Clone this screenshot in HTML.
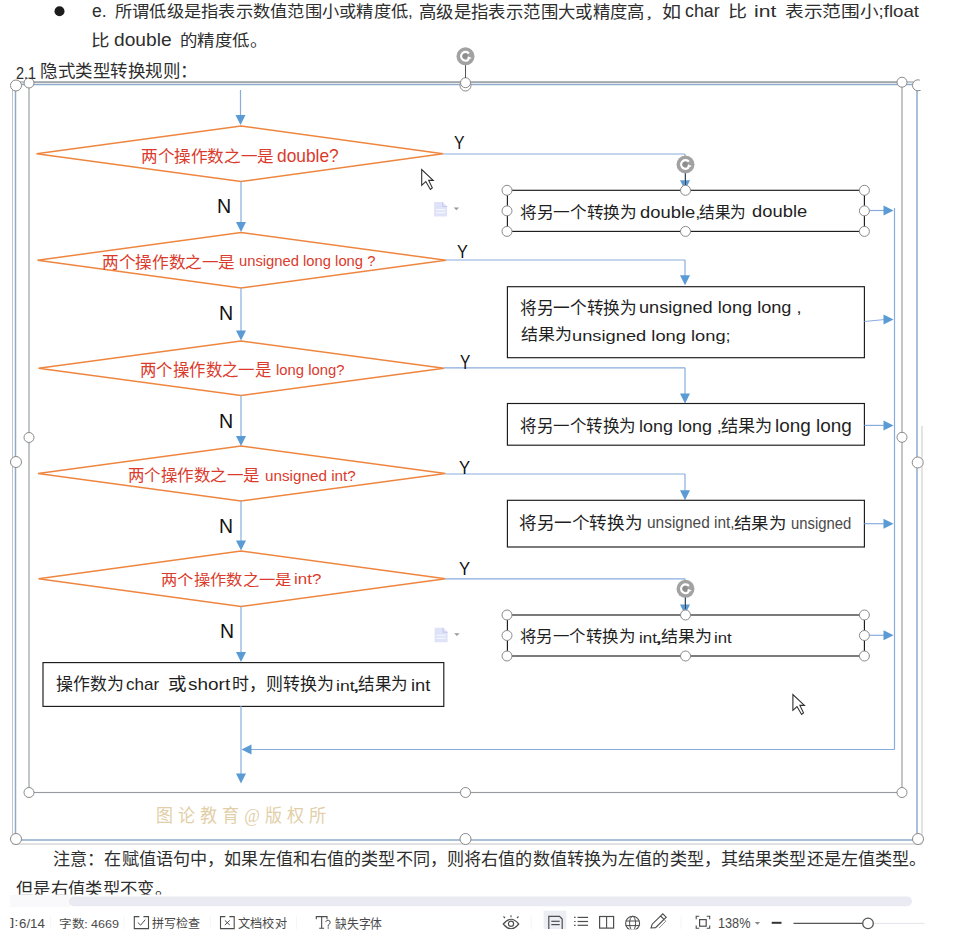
<!DOCTYPE html>
<html lang="zh-CN"><head><meta charset="utf-8"><style>
html,body{margin:0;padding:0;background:#fff}
body{width:967px;height:945px;position:relative;overflow:hidden;font-family:"Liberation Sans",sans-serif}
.t{position:absolute;white-space:nowrap;transform-origin:0 0;line-height:1}
svg{position:absolute;left:0;top:0}
</style></head><body>
<svg width="967" height="945" viewBox="0 0 967 945">
<line x1="12.5" y1="88" x2="12.5" y2="844" stroke="#c4c4c4" stroke-width="1"/>
<line x1="12" y1="844" x2="922" y2="844" stroke="#c4c4c4" stroke-width="1"/>
<line x1="922" y1="426" x2="922" y2="844" stroke="#d6d6d6" stroke-width="1.3"/>
<line x1="16" y1="82" x2="918" y2="82" stroke="#8c9196" stroke-width="1.1"/>
<circle cx="59.5" cy="11.2" r="5" fill="#1c1c1c"/>
<rect x="15.5" y="84.5" width="901.5" height="755.5" fill="none" stroke="#8eaacb" stroke-width="1.5"/>
<rect x="29" y="82.2" width="873" height="710.3" fill="none" stroke="#979b9f" stroke-width="1.15"/>
<line x1="240.5" y1="90" x2="240.5" y2="118" stroke="#88addc" stroke-width="1.2"/>
<path d="M235.5,115 L245.5,115 L240.5,125 Z" fill="#5b9bd5"/>
<path d="M241,126 L443,153.75 L241,181.5 L36.5,153.75 Z" fill="none" stroke="#ee8640" stroke-width="1.5"/>
<path d="M241,232.5 L446,260.25 L241,288 L37.5,260.25 Z" fill="none" stroke="#ee8640" stroke-width="1.5"/>
<path d="M241,341 L444,368.25 L241,395.5 L38.5,368.25 Z" fill="none" stroke="#ee8640" stroke-width="1.5"/>
<path d="M241,446 L445.5,473.5 L241,501 L38,473.5 Z" fill="none" stroke="#ee8640" stroke-width="1.5"/>
<path d="M241,551 L445.5,578.75 L241,606.5 L38.5,578.75 Z" fill="none" stroke="#ee8640" stroke-width="1.5"/>
<line x1="241" y1="181.5" x2="241" y2="223" stroke="#88addc" stroke-width="1.2"/>
<path d="M236,222 L246,222 L241,232 Z" fill="#5b9bd5"/>
<line x1="241" y1="288" x2="241" y2="331.5" stroke="#88addc" stroke-width="1.2"/>
<path d="M236,330.5 L246,330.5 L241,340.5 Z" fill="#5b9bd5"/>
<line x1="241" y1="395.5" x2="241" y2="437" stroke="#88addc" stroke-width="1.2"/>
<path d="M236,436 L246,436 L241,446 Z" fill="#5b9bd5"/>
<line x1="241" y1="501" x2="241" y2="541.5" stroke="#88addc" stroke-width="1.2"/>
<path d="M236,540.5 L246,540.5 L241,550.5 Z" fill="#5b9bd5"/>
<line x1="241" y1="606.5" x2="241" y2="653" stroke="#88addc" stroke-width="1.2"/>
<path d="M236,652 L246,652 L241,662 Z" fill="#5b9bd5"/>
<rect x="43" y="662.6" width="400.8" height="43.8" fill="#fff" stroke="#1a1a1a" stroke-width="1.15"/>
<line x1="241" y1="706" x2="241" y2="775" stroke="#88addc" stroke-width="1.2"/>
<path d="M236,773.5 L246,773.5 L241,783.5 Z" fill="#5b9bd5"/>
<line x1="894.5" y1="749.5" x2="250" y2="749.5" stroke="#88addc" stroke-width="1.2"/>
<path d="M251.5,744.5 L251.5,754.5 L241.5,749.5 Z" fill="#5b9bd5"/>
<line x1="894.5" y1="208" x2="894.5" y2="749.5" stroke="#88addc" stroke-width="1.2"/>
<line x1="443" y1="154" x2="685" y2="154" stroke="#88addc" stroke-width="1.2"/>
<line x1="685" y1="154" x2="685" y2="181.3" stroke="#88addc" stroke-width="1.2"/>
<path d="M680,180.3 L690,180.3 L685,190.3 Z" fill="#5b9bd5"/>
<line x1="446" y1="260" x2="685" y2="260" stroke="#88addc" stroke-width="1.2"/>
<line x1="685" y1="260" x2="685" y2="276.3" stroke="#88addc" stroke-width="1.2"/>
<path d="M680,275.3 L690,275.3 L685,285.3 Z" fill="#5b9bd5"/>
<line x1="444" y1="367.8" x2="685" y2="367.8" stroke="#88addc" stroke-width="1.2"/>
<line x1="685" y1="367.8" x2="685" y2="394.5" stroke="#88addc" stroke-width="1.2"/>
<path d="M680,393.5 L690,393.5 L685,403.5 Z" fill="#5b9bd5"/>
<line x1="445.5" y1="474" x2="685" y2="474" stroke="#88addc" stroke-width="1.2"/>
<line x1="685" y1="474" x2="685" y2="491.3" stroke="#88addc" stroke-width="1.2"/>
<path d="M680,490.3 L690,490.3 L685,500.3 Z" fill="#5b9bd5"/>
<line x1="445.5" y1="578.8" x2="685" y2="578.8" stroke="#88addc" stroke-width="1.2"/>
<line x1="685" y1="578.8" x2="685" y2="605.6" stroke="#88addc" stroke-width="1.2"/>
<path d="M680,604.6 L690,604.6 L685,614.6 Z" fill="#5b9bd5"/>
<rect x="507.4" y="190.3" width="357" height="41.10" fill="none" stroke="#1a1a1a" stroke-width="1.15"/>
<rect x="507.4" y="286.7" width="357" height="71.00" fill="none" stroke="#1a1a1a" stroke-width="1.15"/>
<rect x="507.4" y="403.5" width="357" height="41.70" fill="none" stroke="#1a1a1a" stroke-width="1.15"/>
<rect x="507.4" y="500.3" width="357" height="46.70" fill="none" stroke="#1a1a1a" stroke-width="1.15"/>
<rect x="507.4" y="615" width="357" height="41.00" fill="none" stroke="#1a1a1a" stroke-width="1.15"/>
<line x1="864.4" y1="210.5" x2="885" y2="210.5" stroke="#88addc" stroke-width="1.2"/>
<path d="M883.5,205.5 L883.5,215.5 L893.5,210.5 Z" fill="#5b9bd5"/>
<line x1="864.4" y1="321.5" x2="885" y2="319.5" stroke="#88addc" stroke-width="1.2"/>
<path d="M883.5,314.5 L883.5,324.5 L893.5,319.5 Z" fill="#5b9bd5"/>
<line x1="864.4" y1="425.4" x2="885" y2="425.4" stroke="#88addc" stroke-width="1.2"/>
<path d="M883.5,420.4 L883.5,430.4 L893.5,425.4 Z" fill="#5b9bd5"/>
<line x1="864.4" y1="523.7" x2="885" y2="523.7" stroke="#88addc" stroke-width="1.2"/>
<path d="M883.5,518.7 L883.5,528.7 L893.5,523.7 Z" fill="#5b9bd5"/>
<line x1="864.4" y1="635.3" x2="885" y2="635.3" stroke="#88addc" stroke-width="1.2"/>
<path d="M883.5,630.3 L883.5,640.3 L893.5,635.3 Z" fill="#5b9bd5"/>
<circle cx="507" cy="190.3" r="5" fill="#fff" stroke="#8a8a8a" stroke-width="1"/>
<circle cx="685.5" cy="190.3" r="5" fill="#fff" stroke="#8a8a8a" stroke-width="1"/>
<circle cx="864.4" cy="190.3" r="5" fill="#fff" stroke="#8a8a8a" stroke-width="1"/>
<circle cx="507" cy="210.85000000000002" r="5" fill="#fff" stroke="#8a8a8a" stroke-width="1"/>
<circle cx="864.4" cy="210.85000000000002" r="5" fill="#fff" stroke="#8a8a8a" stroke-width="1"/>
<circle cx="507" cy="231.4" r="5" fill="#fff" stroke="#8a8a8a" stroke-width="1"/>
<circle cx="685.5" cy="231.4" r="5" fill="#fff" stroke="#8a8a8a" stroke-width="1"/>
<circle cx="864.4" cy="231.4" r="5" fill="#fff" stroke="#8a8a8a" stroke-width="1"/>
<circle cx="507" cy="615" r="5" fill="#fff" stroke="#8a8a8a" stroke-width="1"/>
<circle cx="685.5" cy="615" r="5" fill="#fff" stroke="#8a8a8a" stroke-width="1"/>
<circle cx="864.4" cy="615" r="5" fill="#fff" stroke="#8a8a8a" stroke-width="1"/>
<circle cx="507" cy="635.5" r="5" fill="#fff" stroke="#8a8a8a" stroke-width="1"/>
<circle cx="864.4" cy="635.5" r="5" fill="#fff" stroke="#8a8a8a" stroke-width="1"/>
<circle cx="507" cy="656" r="5" fill="#fff" stroke="#8a8a8a" stroke-width="1"/>
<circle cx="685.5" cy="656" r="5" fill="#fff" stroke="#8a8a8a" stroke-width="1"/>
<circle cx="864.4" cy="656" r="5" fill="#fff" stroke="#8a8a8a" stroke-width="1"/>
<circle cx="16" cy="85.5" r="5.5" fill="#fff" stroke="#8a8a8a" stroke-width="1"/>
<circle cx="465.5" cy="85.5" r="5.5" fill="#fff" stroke="#8a8a8a" stroke-width="1"/>
<circle cx="918" cy="85.3" r="5.5" fill="#fff" stroke="#8a8a8a" stroke-width="1"/>
<circle cx="16" cy="462" r="5.5" fill="#fff" stroke="#8a8a8a" stroke-width="1"/>
<circle cx="917.7" cy="462.5" r="5.5" fill="#fff" stroke="#8a8a8a" stroke-width="1"/>
<circle cx="16" cy="839" r="5.5" fill="#fff" stroke="#8a8a8a" stroke-width="1"/>
<circle cx="465.5" cy="839" r="5.5" fill="#fff" stroke="#8a8a8a" stroke-width="1"/>
<circle cx="918" cy="839" r="5.5" fill="#fff" stroke="#8a8a8a" stroke-width="1"/>
<rect x="919.8" y="76" width="30" height="14" fill="#fff"/>
<circle cx="29" cy="83" r="5" fill="#fff" stroke="#8a8a8a" stroke-width="1"/>
<circle cx="465.5" cy="82.7" r="5" fill="#fff" stroke="#8a8a8a" stroke-width="1"/>
<circle cx="902" cy="82.2" r="5" fill="#fff" stroke="#8a8a8a" stroke-width="1"/>
<circle cx="29" cy="437.5" r="5" fill="#fff" stroke="#8a8a8a" stroke-width="1"/>
<circle cx="902" cy="437.3" r="5" fill="#fff" stroke="#8a8a8a" stroke-width="1"/>
<circle cx="29" cy="792.5" r="5" fill="#fff" stroke="#8a8a8a" stroke-width="1"/>
<circle cx="465.5" cy="792.5" r="5" fill="#fff" stroke="#8a8a8a" stroke-width="1"/>
<circle cx="902" cy="792.5" r="5" fill="#fff" stroke="#8a8a8a" stroke-width="1"/>
<line x1="465.5" y1="65" x2="465.5" y2="78" stroke="#555" stroke-width="1"/>
<circle cx="465.5" cy="56.3" r="9" fill="#a2a2a2"/><path d="M468.87,53.47 A4.4,4.4 0 1 0 468.61,59.41" fill="none" stroke="#fff" stroke-width="2.1"/><path d="M467.10,55.90 L471.70,57.90 L467.70,60.30 Z" fill="#fff"/><circle cx="465.2" cy="56.099999999999994" r="2.6" fill="#8e8e8e"/>
<line x1="685.5" y1="173" x2="685.5" y2="185" stroke="#444" stroke-width="1"/>
<circle cx="685.5" cy="164.5" r="9" fill="#a2a2a2"/><path d="M688.87,161.67 A4.4,4.4 0 1 0 688.61,167.61" fill="none" stroke="#fff" stroke-width="2.1"/><path d="M687.10,164.10 L691.70,166.10 L687.70,168.50 Z" fill="#fff"/><circle cx="685.2" cy="164.3" r="2.6" fill="#8e8e8e"/>
<circle cx="685.5" cy="588.8" r="9" fill="#a2a2a2"/><path d="M688.87,585.97 A4.4,4.4 0 1 0 688.61,591.91" fill="none" stroke="#fff" stroke-width="2.1"/><path d="M687.10,588.40 L691.70,590.40 L687.70,592.80 Z" fill="#fff"/><circle cx="685.2" cy="588.5999999999999" r="2.6" fill="#8e8e8e"/>
<line x1="685.5" y1="597.5" x2="685.5" y2="609" stroke="#444" stroke-width="1"/>
<path d="M421.7,169.6 L421.7,185.3 L425.8,181.5 L430.4,189.5 L432.3,187.8 L428.7,180.4 L433.2,180.4 Z" fill="#fff" stroke="#2e2e2e" stroke-width="1.1" stroke-linejoin="miter"/>
<path d="M792.9,694.6 L792.9,710.3 L797.0,706.5 L801.6,714.5 L803.5,712.8 L799.9,705.4 L804.4,705.4 Z" fill="#fff" stroke="#2e2e2e" stroke-width="1.1" stroke-linejoin="miter"/>
<path d="M434.1,202 L442.6,202 L447.1,206.5 L447.1,216.5 L434.1,216.5 Z" fill="#dfe3f7"/><path d="M442.6,202 L442.6,206.5 L447.1,206.5" fill="none" stroke="#c3c9ee" stroke-width="1"/><rect x="436.1" y="209" width="9" height="1.3" fill="#f3f5ff"/><rect x="436.1" y="212" width="9" height="1.3" fill="#f3f5ff"/><path d="M453.6,207.6 L459.1,207.6 L456.35,210.2 Z" fill="#9a9a9a"/>
<path d="M434.6,627.7 L443.1,627.7 L447.6,632.2 L447.6,642.2 L434.6,642.2 Z" fill="#dfe3f7"/><path d="M443.1,627.7 L443.1,632.2 L447.6,632.2" fill="none" stroke="#c3c9ee" stroke-width="1"/><rect x="436.6" y="634.7" width="9" height="1.3" fill="#f3f5ff"/><rect x="436.6" y="637.7" width="9" height="1.3" fill="#f3f5ff"/><path d="M454.1,633.3000000000001 L459.6,633.3000000000001 L456.85,635.9000000000001 Z" fill="#9a9a9a"/>
<line x1="50.7" y1="916" x2="50.7" y2="929" stroke="#f6f6f6" stroke-width="1"/>
<line x1="124" y1="916" x2="124" y2="929" stroke="#f6f6f6" stroke-width="1"/>
<line x1="210.3" y1="916" x2="210.3" y2="929" stroke="#f6f6f6" stroke-width="1"/>
<line x1="296.6" y1="916" x2="296.6" y2="929" stroke="#f6f6f6" stroke-width="1"/>
<line x1="531.3" y1="916" x2="531.3" y2="929" stroke="#f6f6f6" stroke-width="1"/>
<line x1="681" y1="916" x2="681" y2="929" stroke="#f6f6f6" stroke-width="1"/>
<path d="M139.4,916.6 L134.3,916.6 L134.3,928.6 L148.5,928.6 L148.5,916.6 L143.4,916.6" fill="none" stroke="#4d4d4d" stroke-width="1.1"/>
<path d="M137.8,922.5 L140.6,925.2 L145.3,919.6" fill="none" stroke="#4d4d4d" stroke-width="1"/>
<path d="M225.35,916.6 L220.5,916.6 L220.5,928.6 L234.2,928.6 L234.2,916.6 L229.35,916.6" fill="none" stroke="#4d4d4d" stroke-width="1.1"/>
<path d="M224.8,920.4 L229.8,925 M229.8,920.4 L224.8,925" fill="none" stroke="#4d4d4d" stroke-width="1"/>
<path d="M503.3,924 Q511,914.5 518.7,924 Q511,933.5 503.3,924 Z" fill="none" stroke="#4d4d4d" stroke-width="1.2"/>
<circle cx="511" cy="923.8" r="2.6" fill="none" stroke="#4d4d4d" stroke-width="1.2"/>
<line x1="511" y1="915.2" x2="511" y2="917.3" stroke="#4d4d4d" stroke-width="1.1"/>
<line x1="503.5" y1="916.5" x2="505" y2="918" stroke="#4d4d4d" stroke-width="1.1"/>
<line x1="518.5" y1="916.5" x2="517" y2="918" stroke="#4d4d4d" stroke-width="1.1"/>
<rect x="543.6" y="910.7" width="22.8" height="18.3" fill="#eceef4"/>
<path d="M548.8,929 L548.8,916.3 L559.5,916.3 L562.2,919 L562.2,929" fill="none" stroke="#4d4d4d" stroke-width="1.2"/>
<line x1="551.3" y1="921.3" x2="559.7" y2="921.3" stroke="#4d4d4d" stroke-width="1.2"/>
<line x1="551.3" y1="924.6" x2="559.7" y2="924.6" stroke="#4d4d4d" stroke-width="1.2"/>
<line x1="574.1" y1="917.4" x2="575.6" y2="917.4" stroke="#4d4d4d" stroke-width="1.2"/>
<line x1="577.6" y1="917.4" x2="588.1" y2="917.4" stroke="#4d4d4d" stroke-width="1.2"/>
<line x1="574.1" y1="921.5" x2="575.6" y2="921.5" stroke="#4d4d4d" stroke-width="1.2"/>
<line x1="577.6" y1="921.5" x2="588.1" y2="921.5" stroke="#4d4d4d" stroke-width="1.2"/>
<line x1="574.1" y1="925.3" x2="575.6" y2="925.3" stroke="#4d4d4d" stroke-width="1.2"/>
<line x1="577.6" y1="925.3" x2="588.1" y2="925.3" stroke="#4d4d4d" stroke-width="1.2"/>
<rect x="599.6" y="916.5" width="14" height="11.6" fill="none" stroke="#4d4d4d" stroke-width="1.2"/>
<line x1="606.6" y1="916.5" x2="606.6" y2="928.1" stroke="#4d4d4d" stroke-width="1.1"/>
<circle cx="632.6" cy="923.3" r="7" fill="none" stroke="#4d4d4d" stroke-width="1.1"/>
<ellipse cx="632.6" cy="923.3" rx="3" ry="7" fill="none" stroke="#4d4d4d" stroke-width="1"/>
<line x1="625.6" y1="921" x2="639.6" y2="921" stroke="#4d4d4d" stroke-width="1"/>
<line x1="625.6" y1="925.6" x2="639.6" y2="925.6" stroke="#4d4d4d" stroke-width="1"/>
<path d="M651,928 L652.2,924.2 L662.8,913.8 L666.2,917.2 L655.6,927.6 Z M660.6,916 L664,919.4" fill="none" stroke="#4d4d4d" stroke-width="1.1"/>
<path d="M664.5,919.8 L665.8,921.2 L659,928" fill="none" stroke="#8a8a8a" stroke-width="0.9"/>
<path d="M316.3,919.2 L316.3,916.6 L327,916.6 L327,919.2 M321.65,916.6 L321.65,928.3 M319.2,928.3 L324.1,928.3" fill="none" stroke="#4d4d4d" stroke-width="1.1"/>
<path d="M325.5,922 Q326.5,920 328.2,920.2 Q330.6,920.6 330.2,922.8 Q329.7,924.3 328.2,925 L328.2,926.6" fill="none" stroke="#4d4d4d" stroke-width="1"/>
<circle cx="328.2" cy="928" r="0.7" fill="#4d4d4d"/>
<path d="M696.2,919.2 L696.2,916.3 L699.2,916.3 M706.7,916.3 L709.7,916.3 L709.7,919.2 M709.7,925.4 L709.7,928.3 L706.7,928.3 M699.2,928.3 L696.2,928.3 L696.2,925.4" fill="none" stroke="#4d4d4d" stroke-width="1.1"/>
<rect x="699.6" y="919.6" width="6.6" height="6.6" fill="none" stroke="#4d4d4d" stroke-width="1.2"/>
<path d="M754.6,922 L760.1,922 L757.35,924.8 Z" fill="#888"/>
<line x1="771.7" y1="922.8" x2="781.5" y2="922.8" stroke="#333" stroke-width="2"/>
<line x1="793.5" y1="923.4" x2="862.5" y2="923.4" stroke="#555" stroke-width="1.3"/>
<line x1="874" y1="923.4" x2="924.6" y2="923.4" stroke="#e4e4ea" stroke-width="1"/>
<circle cx="868" cy="923.4" r="5.3" fill="#fff" stroke="#555" stroke-width="1.3"/>
</svg>
<div class="t" style="left:92.13px;top:2.9px;font-family:'Liberation Sans',sans-serif;font-size:17px;color:#2e2e2e;transform:scale(1.0298,1.0316);">e.</div>
<div class="t" style="left:114.59px;top:3.88px;font-family:'Liberation Sans',sans-serif;font-size:17px;color:#2e2e2e;transform:scale(1.0142,0.9552);">所谓低级是指表示数值范围小或精度低,</div>
<div class="t" style="left:419.48px;top:3.9px;font-family:'Liberation Sans',sans-serif;font-size:17px;color:#2e2e2e;transform:scale(1.0215,1.0);">高级是指表示范围大或精度高</div>
<div class="t" style="left:645.28px;top:9.87px;font-family:'Liberation Sans',sans-serif;font-size:17px;color:#2e2e2e;transform:scale(0.9846,0.6435);">，</div>
<div class="t" style="left:662.46px;top:3.9px;font-family:'Liberation Sans',sans-serif;font-size:17px;color:#2e2e2e;transform:scale(1.12,1.0);">如</div>
<div class="t" style="left:685.41px;top:2.47px;font-family:'Liberation Sans',sans-serif;font-size:17px;color:#2e2e2e;transform:scale(1.0469,1.048);">char</div>
<div class="t" style="left:727.92px;top:3.94px;font-family:'Liberation Sans',sans-serif;font-size:17px;color:#2e2e2e;transform:scale(1.1172,0.9484);">比</div>
<div class="t" style="left:754.15px;top:3.26px;font-family:'Liberation Sans',sans-serif;font-size:17px;color:#2e2e2e;transform:scale(1.2424,0.992);">int</div>
<div class="t" style="left:784.68px;top:3.78px;font-family:'Liberation Sans',sans-serif;font-size:17px;color:#2e2e2e;transform:scale(1.1,0.9612);">表示范围小;float</div>
<div class="t" style="left:91.07px;top:32.94px;font-family:'Liberation Sans',sans-serif;font-size:17px;color:#2e2e2e;transform:scale(1.0897,0.9548);">比</div>
<div class="t" style="left:114.15px;top:31.27px;font-family:'Liberation Sans',sans-serif;font-size:17px;color:#2e2e2e;transform:scale(1.1273,1.104);">double</div>
<div class="t" style="left:179.56px;top:33.16px;font-family:'Liberation Sans',sans-serif;font-size:17px;color:#2e2e2e;transform:scale(1.0262,0.925);">的精度低。</div>
<div class="t" style="left:16.18px;top:63.77px;font-family:'Liberation Sans',sans-serif;font-size:15px;color:#2e2e2e;transform:scale(0.9662,1.1524);">2.1</div>
<div class="t" style="left:40.11px;top:63.39px;font-family:'Liberation Sans',sans-serif;font-size:17px;color:#2e2e2e;transform:scale(1.0303,0.9812);">隐式类型转换规则：</div>
<div class="t" style="left:141.06px;top:148.93px;font-family:'Liberation Sans',sans-serif;font-size:16px;color:#da3b2c;transform:scale(1.0384,1.02);">两个操作数之一是</div>
<div class="t" style="left:277.22px;top:146.19px;font-family:'Liberation Sans',sans-serif;font-size:15px;color:#da3b2c;transform:scale(1.156,1.2089);">double?</div>
<div class="t" style="left:102.46px;top:255.32px;font-family:'Liberation Sans',sans-serif;font-size:16px;color:#da3b2c;transform:scale(1.04,1.0133);">两个操作数之一是</div>
<div class="t" style="left:238.64px;top:253.63px;font-family:'Liberation Sans',sans-serif;font-size:14px;color:#da3b2c;transform:scale(1.0552,1.0113);">unsigned long long ?</div>
<div class="t" style="left:140.18px;top:363.15px;font-family:'Liberation Sans',sans-serif;font-size:16px;color:#da3b2c;transform:scale(1.025,1.0333);">两个操作数之一是</div>
<div class="t" style="left:276.24px;top:362.69px;font-family:'Liberation Sans',sans-serif;font-size:14px;color:#da3b2c;transform:scale(1.0587,1.034);">long long?</div>
<div class="t" style="left:128.37px;top:468.41px;font-family:'Liberation Sans',sans-serif;font-size:16px;color:#da3b2c;transform:scale(1.0305,1.0067);">两个操作数之一是</div>
<div class="t" style="left:264.51px;top:468.72px;font-family:'Liberation Sans',sans-serif;font-size:14px;color:#da3b2c;transform:scale(1.0899,1.0189);">unsigned int?</div>
<div class="t" style="left:160.88px;top:572.76px;font-family:'Liberation Sans',sans-serif;font-size:16px;color:#da3b2c;transform:scale(1.0202,0.9067);">两个操作数之一是</div>
<div class="t" style="left:293.99px;top:571.34px;font-family:'Liberation Sans',sans-serif;font-size:14px;color:#da3b2c;transform:scale(1.2095,1.0634);">int?</div>
<div class="t" style="left:520.16px;top:203.88px;font-family:'Liberation Sans',sans-serif;font-size:17px;color:#1f1f1f;transform:scale(0.9811,0.9688);">将另一个转换为</div>
<div class="t" style="left:639.99px;top:203.06px;font-family:'Liberation Sans',sans-serif;font-size:15px;color:#1f1f1f;transform:scale(1.2253,1.1385);">double,</div>
<div class="t" style="left:699.14px;top:203.88px;font-family:'Liberation Sans',sans-serif;font-size:17px;color:#1f1f1f;transform:scale(0.921,0.9688);">结果为</div>
<div class="t" style="left:752.39px;top:203.1px;font-family:'Liberation Sans',sans-serif;font-size:15px;color:#1f1f1f;transform:scale(1.2251,1.1022);">double</div>
<div class="t" style="left:520.16px;top:299.91px;font-family:'Liberation Sans',sans-serif;font-size:17px;color:#1f1f1f;transform:scale(0.9811,1.0188);">将另一个转换为</div>
<div class="t" style="left:639.39px;top:299.09px;font-family:'Liberation Sans',sans-serif;font-size:15px;color:#1f1f1f;transform:scale(1.2106,1.1088);">unsigned long long ,</div>
<div class="t" style="left:520.5px;top:327.28px;font-family:'Liberation Sans',sans-serif;font-size:17px;color:#1f1f1f;transform:scale(0.999,0.9625);">结果为</div>
<div class="t" style="left:572.08px;top:328.12px;font-family:'Liberation Sans',sans-serif;font-size:15px;color:#1f1f1f;transform:scale(1.2196,0.9754);">unsigned long long;</div>
<div class="t" style="left:520.47px;top:417.5px;font-family:'Liberation Sans',sans-serif;font-size:17px;color:#1f1f1f;transform:scale(0.9725,0.9937);">将另一个转换为</div>
<div class="t" style="left:638.6px;top:416.77px;font-family:'Liberation Sans',sans-serif;font-size:15px;color:#1f1f1f;transform:scale(1.197,1.1298);">long long ,</div>
<div class="t" style="left:721.39px;top:417.5px;font-family:'Liberation Sans',sans-serif;font-size:17px;color:#1f1f1f;transform:scale(1.0113,0.9937);">结果为</div>
<div class="t" style="left:774.64px;top:416.2px;font-family:'Liberation Sans',sans-serif;font-size:15px;color:#1f1f1f;transform:scale(1.261,1.2);">long long</div>
<div class="t" style="left:519.17px;top:514.64px;font-family:'Liberation Sans',sans-serif;font-size:18px;color:#1f1f1f;transform:scale(0.9781,0.9433);">将另一个转换为</div>
<div class="t" style="left:646.81px;top:514.66px;font-family:'Liberation Sans',sans-serif;font-size:13px;color:#4a4a4a;transform:scale(1.1889,1.2245);">unsigned int,</div>
<div class="t" style="left:733.51px;top:514.93px;font-family:'Liberation Sans',sans-serif;font-size:18px;color:#1f1f1f;transform:scale(0.97,0.9059);">结果为</div>
<div class="t" style="left:790.84px;top:514.6px;font-family:'Liberation Sans',sans-serif;font-size:13px;color:#4a4a4a;transform:scale(1.1434,1.2653);">unsigned</div>
<div class="t" style="left:520.27px;top:629.28px;font-family:'Liberation Sans',sans-serif;font-size:17px;color:#1f1f1f;transform:scale(0.9691,0.9625);">将另一个转换为</div>
<div class="t" style="left:639.07px;top:630.3px;font-family:'Liberation Sans',sans-serif;font-size:15px;color:#1f1f1f;transform:scale(1.1322,0.9956);">int</div>
<div class="t" style="left:654.44px;top:628.25px;font-family:'Liberation Sans',sans-serif;font-size:15px;color:#1f1f1f;transform:scale(2.24,1.1467);">,</div>
<div class="t" style="left:661.0px;top:629.28px;font-family:'Liberation Sans',sans-serif;font-size:17px;color:#1f1f1f;transform:scale(0.999,0.9625);">结果为</div>
<div class="t" style="left:713.68px;top:630.74px;font-family:'Liberation Sans',sans-serif;font-size:15px;color:#1f1f1f;transform:scale(1.1186,0.96);">int</div>
<div class="t" style="left:56.45px;top:676.4px;font-family:'Liberation Sans',sans-serif;font-size:17px;color:#1f1f1f;transform:scale(0.9954,0.9937);">操作数为</div>
<div class="t" style="left:125.65px;top:676.2px;font-family:'Liberation Sans',sans-serif;font-size:15px;color:#1f1f1f;transform:scale(1.1363,1.1022);">char</div>
<div class="t" style="left:167.81px;top:676.4px;font-family:'Liberation Sans',sans-serif;font-size:17px;color:#1f1f1f;transform:scale(1.0885,0.9937);">或</div>
<div class="t" style="left:187.97px;top:676.2px;font-family:'Liberation Sans',sans-serif;font-size:15px;color:#1f1f1f;transform:scale(1.2641,1.1022);">short</div>
<div class="t" style="left:231.75px;top:676.39px;font-family:'Liberation Sans',sans-serif;font-size:17px;color:#1f1f1f;transform:scale(0.997,0.9785);">时，则转换为</div>
<div class="t" style="left:335.73px;top:678.03px;font-family:'Liberation Sans',sans-serif;font-size:15px;color:#1f1f1f;transform:scale(1.1729,0.9689);">int</div>
<div class="t" style="left:351.5px;top:676.02px;font-family:'Liberation Sans',sans-serif;font-size:15px;color:#1f1f1f;transform:scale(2.0,1.12);">,</div>
<div class="t" style="left:357.71px;top:676.1px;font-family:'Liberation Sans',sans-serif;font-size:17px;color:#1f1f1f;transform:scale(0.9723,1.0063);">结果为</div>
<div class="t" style="left:410.58px;top:677.45px;font-family:'Liberation Sans',sans-serif;font-size:15px;color:#1f1f1f;transform:scale(1.2203,1.0489);">int</div>
<div class="t" style="left:453.87px;top:131.86px;font-family:'Liberation Sans',sans-serif;font-size:15px;color:#111;transform:scale(1.0556,1.278);">Y</div>
<div class="t" style="left:456.76px;top:242.18px;font-family:'Liberation Sans',sans-serif;font-size:15px;color:#111;transform:scale(1.0778,1.2683);">Y</div>
<div class="t" style="left:459.98px;top:352.25px;font-family:'Liberation Sans',sans-serif;font-size:15px;color:#111;transform:scale(1.0333,1.2878);">Y</div>
<div class="t" style="left:459.44px;top:457.83px;font-family:'Liberation Sans',sans-serif;font-size:15px;color:#111;transform:scale(1.1111,1.239);">Y</div>
<div class="t" style="left:459.44px;top:558.8px;font-family:'Liberation Sans',sans-serif;font-size:15px;color:#111;transform:scale(1.1111,1.2585);">Y</div>
<div class="t" style="left:216.96px;top:196.31px;font-family:'Liberation Sans',sans-serif;font-size:15px;color:#111;transform:scale(1.3091,1.3073);">N</div>
<div class="t" style="left:218.96px;top:302.53px;font-family:'Liberation Sans',sans-serif;font-size:15px;color:#111;transform:scale(1.3091,1.2976);">N</div>
<div class="t" style="left:218.96px;top:410.53px;font-family:'Liberation Sans',sans-serif;font-size:15px;color:#111;transform:scale(1.3091,1.2976);">N</div>
<div class="t" style="left:219.08px;top:515.8px;font-family:'Liberation Sans',sans-serif;font-size:15px;color:#111;transform:scale(1.297,1.3171);">N</div>
<div class="t" style="left:219.88px;top:621.01px;font-family:'Liberation Sans',sans-serif;font-size:15px;color:#111;transform:scale(1.297,1.3073);">N</div>
<div class="t" style="left:155.5px;top:806.54px;font-family:'Liberation Serif',serif;font-size:17px;color:#e2cfa8;transform:scale(1.003,1.0704);letter-spacing:5px">图论教育@版权所</div>
<div class="t" style="left:53.04px;top:850.7px;font-family:'Liberation Sans',sans-serif;font-size:17px;color:#2e2e2e;transform:scale(1.0074,0.9969);">注意：在赋值语句中，如果左值和右值的类型不同，则将右值的数值转换为左值的类型，其结果类型还是左值类型。</div>
<div class="t" style="left:15.59px;top:880.79px;font-family:'Liberation Sans',sans-serif;font-size:17px;color:#2e2e2e;transform:scale(1.0191,0.9813);">但是右值类型不变。</div>
<div class="t" style="left:10.1px;top:917.15px;font-family:'Liberation Sans',sans-serif;font-size:13px;color:#4a4a4a;transform:scale(1.1833,0.8327);">]:</div>
<div class="t" style="left:19.43px;top:917.25px;font-family:'Liberation Sans',sans-serif;font-size:13px;color:#4a4a4a;transform:scale(1.0227,0.9641);">6/14</div>
<div class="t" style="left:58.83px;top:917.72px;font-family:'Liberation Sans',sans-serif;font-size:13px;color:#4a4a4a;transform:scale(0.9669,0.898);">字数: 4669</div>
<div class="t" style="left:151.94px;top:917.24px;font-family:'Liberation Sans',sans-serif;font-size:13px;color:#4a4a4a;transform:scale(0.9255,0.96);">拼写检查</div>
<div class="t" style="left:238.23px;top:917.24px;font-family:'Liberation Sans',sans-serif;font-size:13px;color:#4a4a4a;transform:scale(0.9373,0.96);">文档校对</div>
<div class="t" style="left:335.25px;top:917.24px;font-family:'Liberation Sans',sans-serif;font-size:13px;color:#4a4a4a;transform:scale(0.9078,0.9796);">缺失字体</div>
<div class="t" style="left:717.62px;top:915.74px;font-family:'Liberation Sans',sans-serif;font-size:13px;color:#4a4a4a;transform:scale(0.9764,1.0811);">138%</div>
<svg width="967" height="945" viewBox="0 0 967 945">
<rect x="0" y="894.6" width="967" height="14" fill="#fff"/>
<rect x="10" y="895" width="60" height="12" fill="#f9f9fb"/>
<rect x="69" y="896.5" width="843" height="9.7" rx="4.8" fill="#eaeaf2"/>
<rect x="490" y="929.4" width="200" height="16" fill="#fff"/>
</svg>
</body></html>
